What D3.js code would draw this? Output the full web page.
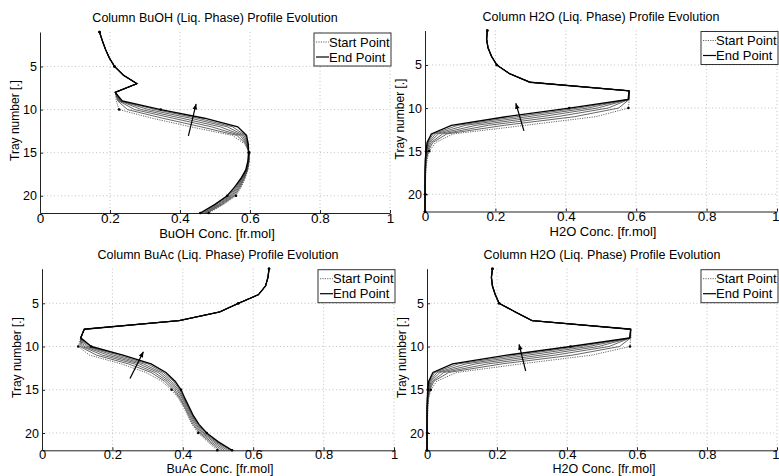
<!DOCTYPE html>
<html><head><meta charset="utf-8">
<script src="https://cdn.jsdelivr.net/npm/d3@7"></script>
<style>
body{margin:0;background:#fff}
text{font-family:"Liberation Sans",Arial,Helvetica,sans-serif;fill:#000}
</style>
</head><body>
<svg id="chart" width="779" height="476"></svg>
<script>
// ---------------- DATA ----------------
const trays = [1,2,3,4,5,6,7,8,9,10,11,12,13,14,15,16,17,18,19,20,21,22];
const xTicks = [0,0.2,0.4,0.6,0.8,1];
const xTickLabels = ["0","0.2","0.4","0.6","0.8","1"];
const yTicks = [5,10,15,20];
const yTickLabels = ["5","10","15","20"];
const legendLabels = ["Start Point","End Point"];
const titles = ["Column BuOH (Liq. Phase) Profile Evolution","Column H2O (Liq. Phase) Profile Evolution",
                "Column BuAc (Liq. Phase) Profile Evolution","Column H2O (Liq. Phase) Profile Evolution"];
const xLabels = ["BuOH Conc. [fr.mol]","H2O Conc. [fr.mol]","BuAc Conc. [fr.mol]","H2O Conc. [fr.mol]"];
const yLabel = "Tray number [.]";
const markerTrays = [1,5,10,15,20,22];

// BuOH liquid profile: trays 1-8 shared, trays 9-22 per time snapshot (start ... end)
const buohHead = [0.170,0.178,0.187,0.198,0.213,0.238,0.277,0.215];
const buohTails = [
 [0.218,0.226,0.320,0.430,0.550,0.585,0.598,0.598,0.594,0.586,0.575,0.560,0.525,0.482],
 [0.222,0.250,0.350,0.460,0.563,0.588,0.598,0.597,0.593,0.584,0.572,0.556,0.521,0.478],
 [0.225,0.270,0.380,0.490,0.572,0.590,0.597,0.597,0.592,0.582,0.569,0.552,0.517,0.474],
 [0.228,0.290,0.405,0.515,0.578,0.592,0.597,0.596,0.591,0.580,0.566,0.548,0.513,0.470],
 [0.230,0.310,0.430,0.535,0.583,0.593,0.597,0.595,0.590,0.578,0.563,0.544,0.509,0.466],
 [0.232,0.330,0.450,0.550,0.587,0.594,0.596,0.595,0.589,0.576,0.560,0.540,0.504,0.462],
 [0.235,0.345,0.470,0.565,0.590,0.595,0.596,0.594,0.588,0.574,0.556,0.535,0.500,0.458]
];
// H2O (top) : trays 1-8 shared, trays 9-22 per snapshot
const h2oAHead = [0.177,0.175,0.179,0.189,0.204,0.240,0.298,0.580];
const h2oATails = [
 [0.580,0.578,0.485,0.285,0.080,0.030,0.012,0.006,0.003,0.002,0.001,0.001,0.000,0.000],
 [0.580,0.550,0.425,0.225,0.062,0.022,0.009,0.004,0.002,0.001,0.001,0.000,0.000,0.000],
 [0.579,0.520,0.375,0.180,0.050,0.017,0.007,0.003,0.002,0.001,0.000,0.000,0.000,0.000],
 [0.579,0.490,0.330,0.145,0.038,0.013,0.005,0.002,0.001,0.001,0.000,0.000,0.000,0.000],
 [0.578,0.462,0.292,0.115,0.030,0.010,0.004,0.002,0.001,0.000,0.000,0.000,0.000,0.000],
 [0.578,0.435,0.260,0.093,0.023,0.008,0.003,0.001,0.001,0.000,0.000,0.000,0.000,0.000],
 [0.577,0.410,0.230,0.075,0.018,0.006,0.003,0.001,0.000,0.000,0.000,0.000,0.000,0.000]
];
// BuAc : trays 1-9 shared, trays 10-22 per snapshot
const buacHead = [0.645,0.642,0.635,0.615,0.558,0.505,0.390,0.120,0.110];
const buacTails = [
 [0.103,0.135,0.225,0.295,0.340,0.368,0.388,0.402,0.414,0.426,0.444,0.470,0.498],
 [0.108,0.155,0.245,0.310,0.348,0.373,0.391,0.405,0.417,0.429,0.448,0.475,0.505],
 [0.114,0.172,0.262,0.320,0.355,0.378,0.394,0.408,0.420,0.433,0.452,0.480,0.512],
 [0.120,0.188,0.276,0.330,0.361,0.383,0.398,0.411,0.423,0.437,0.456,0.486,0.519],
 [0.127,0.203,0.288,0.338,0.367,0.387,0.401,0.414,0.426,0.440,0.460,0.491,0.526],
 [0.133,0.217,0.300,0.345,0.373,0.391,0.403,0.416,0.428,0.443,0.464,0.495,0.533],
 [0.140,0.230,0.310,0.352,0.378,0.395,0.406,0.418,0.430,0.446,0.468,0.500,0.540]
];
// H2O (bottom)
const h2oBHead = [0.187,0.184,0.187,0.195,0.206,0.252,0.300,0.582];
const h2oBTails = [
 [0.582,0.580,0.470,0.270,0.085,0.028,0.011,0.005,0.003,0.002,0.001,0.001,0.000,0.000],
 [0.582,0.550,0.415,0.215,0.062,0.020,0.008,0.004,0.002,0.001,0.001,0.000,0.000,0.000],
 [0.581,0.520,0.365,0.175,0.048,0.016,0.006,0.003,0.001,0.001,0.000,0.000,0.000,0.000],
 [0.581,0.490,0.325,0.140,0.037,0.012,0.005,0.002,0.001,0.000,0.000,0.000,0.000,0.000],
 [0.580,0.462,0.288,0.112,0.029,0.009,0.004,0.001,0.001,0.000,0.000,0.000,0.000,0.000],
 [0.580,0.435,0.256,0.090,0.022,0.007,0.003,0.001,0.000,0.000,0.000,0.000,0.000,0.000],
 [0.579,0.410,0.228,0.073,0.017,0.005,0.002,0.001,0.000,0.000,0.000,0.000,0.000,0.000]
];
// evolution arrows [conc, tray] start -> end
const arrowsFrom = [[0.424,13.06],[0.281,12.65],[0.250,13.7],[0.282,12.83]];
const arrowsTo   = [[0.446,9.35],[0.258,9.44],[0.288,10.6],[0.263,9.74]];

// ---------------- LAYOUT ----------------
const panels = [
  {x0:40, x1:390, y0:32,   y1:213,   lab:25,   tf:13.5, tdy:"0.72em", lf:13,   edge:false, head:buohHead, tails:buohTails},
  {x0:425,x1:777, y0:30.5, y1:211.5, lab:24.5, tf:13.5, tdy:"0.72em", lf:13,   edge:true,  head:h2oAHead, tails:h2oATails},
  {x0:42, x1:394, y0:268.7,y1:450.3, lab:23,   tf:13,   tdy:"0.65em", lf:12.5, edge:false, head:buacHead, tails:buacTails},
  {x0:427,x1:777, y0:268.7,y1:450.3, lab:23,   tf:13,   tdy:"0.65em", lf:12.5, edge:true,  head:h2oBHead, tails:h2oBTails}
];

const svg = d3.select("#chart");
svg.append("rect").attr("width",779).attr("height",476).attr("fill","#fff");

panels.forEach((p,i)=>{
  const x = d3.scaleLinear().domain([0,1]).range([p.x0,p.x1]);
  const y = d3.scaleLinear().domain([1,22]).range([p.y0,p.y1]);
  const g = svg.append("g");

  // grid
  g.selectAll(".gx").data(xTicks.slice(1)).enter().append("line")
    .attr("x1",d=>x(d)).attr("x2",d=>x(d)).attr("y1",p.y0).attr("y2",p.y1)
    .attr("stroke","#a8a8a8").attr("stroke-width",0.7).attr("stroke-dasharray","1,2.5");
  g.selectAll(".gy").data(yTicks).enter().append("line")
    .attr("x1",p.x0).attr("x2",p.x1).attr("y1",d=>y(d)).attr("y2",d=>y(d))
    .attr("stroke","#a8a8a8").attr("stroke-width",0.7).attr("stroke-dasharray","1,2.5");

  // axes
  const xAxis = d3.axisBottom(x).tickValues(xTicks).tickFormat((d,k)=>xTickLabels[k]).tickSizeInner(-3).tickSizeOuter(0).tickPadding(0);
  const ax = g.append("g").attr("transform",`translate(0,${p.y1})`).call(xAxis);
  ax.select(".domain").attr("stroke","#222").attr("stroke-width",1);
  ax.selectAll(".tick line").attr("stroke","#222");
  ax.selectAll("text").attr("font-size",p.tf).attr("font-family","Liberation Sans, Arial")
    .attr("y",0).attr("dy",p.tdy).attr("fill","#000");
  if(p.edge){
    ax.selectAll("text").filter(d=>d===1).attr("text-anchor","end").attr("x",2);
  }

  const yAxis = d3.axisLeft(y).tickValues(yTicks).tickFormat((d,k)=>yTickLabels[k]).tickSizeInner(-3).tickSizeOuter(0).tickPadding(3);
  const ay = g.append("g").attr("transform",`translate(${p.x0},0)`).call(yAxis);
  ay.select(".domain").attr("stroke","#222").attr("stroke-width",1);
  ay.selectAll(".tick line").attr("stroke","#222");
  ay.selectAll("text").attr("font-size",12.5).attr("font-family","Liberation Sans, Arial").attr("fill","#000");

  // title & labels
  g.append("text").attr("x",(p.x0+p.x1)/2).attr("y",p.y0-10).attr("text-anchor","middle")
    .attr("font-size",12.5).text(titles[i]);
  g.append("text").attr("x",(p.x0+p.x1)/2+2).attr("y",p.y1+p.lab).attr("text-anchor","middle")
    .attr("font-size",p.lf).text(xLabels[i]);
  g.append("text").attr("transform",`translate(${p.x0-21},${(p.y0+p.y1)/2-2}) rotate(-90)`)
    .attr("text-anchor","middle").attr("font-size",12).text(yLabel);

  // series
  const series = p.tails.map(t => p.head.concat(t));
  const line = d3.line().x(d=>x(d[0])).y(d=>y(d[1]));
  const n = series.length;
  series.forEach((s,k)=>{
    const pts = s.map((v,j)=>[v,trays[j]]);
    const path = g.append("path").datum(pts).attr("d",line).attr("fill","none");
    if(k===0) path.attr("stroke","#555").attr("stroke-width",0.9).attr("stroke-dasharray","1.2,1.2");
    else if(k===n-1) path.attr("stroke","#000").attr("stroke-width",1.4);
    else path.attr("stroke","#333").attr("stroke-width",0.75);
  });
  // markers on start and end profiles
  [series[0],series[n-1]].forEach(s=>{
    g.selectAll(null).data(markerTrays).enter().append("circle")
      .attr("cx",t=>x(s[trays.indexOf(t)])).attr("cy",t=>y(t)).attr("r",1.3).attr("fill","#000");
  });

  // evolution arrow
  const a0=[x(arrowsFrom[i][0]),y(arrowsFrom[i][1])], a1=[x(arrowsTo[i][0]),y(arrowsTo[i][1])];
  g.append("line").attr("x1",a0[0]).attr("y1",a0[1]).attr("x2",a1[0]).attr("y2",a1[1])
    .attr("stroke","#000").attr("stroke-width",1.2);
  const ang=Math.atan2(a1[1]-a0[1],a1[0]-a0[0]), L=5.5, W=2.3;
  const bx=a1[0]-L*Math.cos(ang), by=a1[1]-L*Math.sin(ang);
  g.append("path").attr("d",`M${a1[0]},${a1[1]}L${bx+W*Math.sin(ang)},${by-W*Math.cos(ang)}L${bx-W*Math.sin(ang)},${by+W*Math.cos(ang)}Z`)
    .attr("fill","#000");

  // legend
  const lw=77, lh=33, lx=p.x1+1-lw, ly=p.y0+1;
  const lg = g.append("g");
  lg.append("rect").attr("x",lx).attr("y",ly).attr("width",lw).attr("height",lh)
    .attr("fill","#fff").attr("stroke","#333").attr("stroke-width",1);
  legendLabels.forEach((lab,k)=>{
    const yy = ly+9+k*15;
    const ln = lg.append("line").attr("x1",lx+2).attr("x2",lx+15).attr("y1",yy).attr("y2",yy);
    if(k===0) ln.attr("stroke","#555").attr("stroke-width",0.9).attr("stroke-dasharray","1.2,1.2");
    else ln.attr("stroke","#000").attr("stroke-width",1.2);
    lg.append("text").attr("x",lx+15).attr("y",yy+4.6).attr("font-size",13).text(lab);
  });
});
</script>
</body></html>
